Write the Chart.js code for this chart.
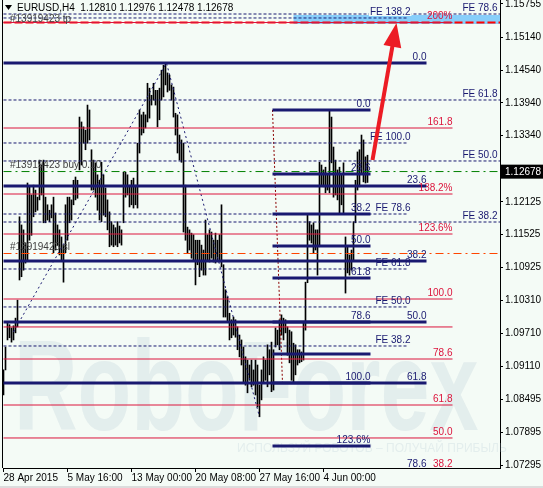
<!DOCTYPE html>
<html>
<head>
<meta charset="utf-8">
<script src="https://cdn.jsdelivr.net/npm/chart.js@4.4.1/dist/chart.umd.min.js"></script>
<style>
  html, body { margin: 0; padding: 0; background: #f4fbf6; }
  canvas { display: block; }
</style>
</head>
<body>
<canvas id="chart" width="543" height="488"></canvas>
<script>
'use strict';

var title = 'EURUSD,H4  1.12810 1.12976 1.12478 1.12678';
var lastPrice = 1.12678;

// H4 bars, one per index (high / low)
var highs = [
  1.0904, 1.0946, 1.0992, 1.0987, 1.0981, 1.0985, 1.0999, 1.1032, 1.1185, 1.1170,
  1.1161, 1.1137, 1.1247, 1.1240, 1.1225, 1.1243, 1.1234, 1.1221, 1.1289, 1.1280,
  1.1289, 1.1221, 1.1207, 1.1197, 1.1207, 1.1221, 1.1192, 1.1170, 1.1161, 1.1148,
  1.1133, 1.1207, 1.1221, 1.1221, 1.1216, 1.1252, 1.1258, 1.1252, 1.1368, 1.1359,
  1.1350, 1.1344, 1.1390, 1.1381, 1.1308, 1.1289, 1.1284, 1.1262, 1.1252, 1.1285,
  1.1262, 1.1238, 1.1216, 1.1194, 1.1176, 1.1170, 1.1165, 1.1176, 1.1168, 1.1161,
  1.1267, 1.1267, 1.1262, 1.1243, 1.1252, 1.1256, 1.1243, 1.1320, 1.1381, 1.1372,
  1.1377, 1.1372, 1.1430, 1.1421, 1.1408, 1.1430, 1.1417, 1.1417, 1.1421, 1.1454,
  1.1463, 1.1467, 1.1449, 1.1445, 1.1427, 1.1423, 1.1375, 1.1372, 1.1335, 1.1326,
  1.1320, 1.1243, 1.1166, 1.1161, 1.1155, 1.1152, 1.1142, 1.1142, 1.1142, 1.1133,
  1.1124, 1.1179, 1.1152, 1.1161, 1.1157, 1.1142, 1.1155, 1.1142, 1.1152, 1.1207,
  1.1097, 1.1051, 1.1038, 1.1008, 1.0996, 1.1001, 1.0996, 1.0983, 1.0968, 1.0959,
  1.0946, 1.0928, 1.0922, 1.0913, 1.0922, 1.0904, 1.0922, 1.0913, 1.0876, 1.0904,
  1.0928, 1.0922, 1.0950, 1.0941, 1.0955, 1.0941, 1.0981, 1.0977, 1.0996, 1.1005,
  1.0999, 1.0996, 1.0983, 1.0977, 1.0974, 1.0953, 1.0950, 1.0941, 1.0941, 1.0937,
  1.0992, 1.1065, 1.1188, 1.1176, 1.1170, 1.1174, 1.1161, 1.1161, 1.1285, 1.1280,
  1.1271, 1.1276, 1.1262, 1.1381, 1.1368, 1.1313, 1.1289, 1.1271, 1.1276, 1.1262,
  1.1284, 1.1148, 1.1130, 1.1115, 1.1124, 1.1176, 1.1252, 1.1304, 1.1308, 1.1335,
  1.1326, 1.1295, 1.1298
];
var lows = [
  1.0858, 1.0904, 1.0959, 1.0963, 1.0955, 1.0959, 1.0972, 1.0983, 1.1069, 1.1075,
  1.1087, 1.1100, 1.1106, 1.1142, 1.1151, 1.1185, 1.1194, 1.1197, 1.1216, 1.1225,
  1.1174, 1.1174, 1.1179, 1.1176, 1.1183, 1.1119, 1.1124, 1.1133, 1.1115, 1.1106,
  1.1065, 1.1119, 1.1142, 1.1174, 1.1179, 1.1207, 1.1216, 1.1219, 1.1271, 1.1280,
  1.1320, 1.1308, 1.1320, 1.1326, 1.1234, 1.1234, 1.1221, 1.1197, 1.1179, 1.1176,
  1.1188, 1.1185, 1.1161, 1.1130, 1.1133, 1.1130, 1.1133, 1.1130, 1.1137, 1.1133,
  1.1174, 1.1221, 1.1225, 1.1203, 1.1207, 1.1201, 1.1207, 1.1201, 1.1302, 1.1335,
  1.1339, 1.1348, 1.1359, 1.1366, 1.1390, 1.1399, 1.1390, 1.1350, 1.1363, 1.1399,
  1.1405, 1.1427, 1.1414, 1.1417, 1.1399, 1.1368, 1.1335, 1.1302, 1.1289, 1.1285,
  1.1157, 1.1142, 1.1119, 1.1124, 1.1109, 1.1106, 1.1060, 1.1097, 1.1075, 1.1087,
  1.1078, 1.1078, 1.1106, 1.1102, 1.1109, 1.1102, 1.1100, 1.1106, 1.1102, 1.1093,
  1.1001, 1.1001, 1.0992, 1.0959, 1.0963, 1.0968, 1.0964, 1.0941, 1.0928, 1.0913,
  1.0880, 1.0876, 1.0862, 1.0885, 1.0873, 1.0876, 1.0858, 1.0836, 1.0818, 1.0849,
  1.0880, 1.0885, 1.0873, 1.0895, 1.0864, 1.0867, 1.0946, 1.0950, 1.0941, 1.0968,
  1.0959, 1.0972, 1.0931, 1.0917, 1.0885, 1.0880, 1.0895, 1.0913, 1.0917, 1.0919,
  1.0922, 1.0977, 1.1064, 1.1142, 1.1137, 1.1119, 1.1124, 1.1078, 1.1130, 1.1243,
  1.1240, 1.1229, 1.1234, 1.1229, 1.1284, 1.1221, 1.1225, 1.1216, 1.1192, 1.1207,
  1.1192, 1.1045, 1.1082, 1.1078, 1.1087, 1.1106, 1.1174, 1.1234, 1.1240, 1.1265,
  1.1249, 1.1247, 1.1248
];

var timeTicks = [0, 32, 64, 96, 128, 160];
var timeLabels = ['28 Apr 2015', '5 May 16:00', '13 May 00:00', '20 May 08:00', '27 May 16:00', '4 Jun 00:00'];
var priceTicks = [1.15755, 1.15140, 1.14540, 1.13940, 1.13340, 1.12125, 1.11525,
                  1.10925, 1.10310, 1.09710, 1.09110, 1.08495, 1.07895, 1.07295];
var priceMin = 1.07240, priceMax = 1.15828;
var barMin = -0.25, barMax = 248.25;

// fibo retracement, big (solid navy)
var bigFibPrices = [1.14672, 1.12415, 1.11039, 1.09919, 1.08800, 1.07204];
var bigFibLabels = ['0.0', '23.6', '38.2', '50.0', '61.8', '78.6'];
var bigFibSpan = [0, 211.5];

// fibo retracement, small (solid navy)
var smallFibPrices = [1.13810, 1.12635, 1.11901, 1.11314, 1.10727, 1.09919, 1.09332, 1.08800, 1.07644];
var smallFibLabels = ['0.0', '23.6', '38.2', '50.0', '61.8', '78.6', '', '100.0', '123.6%'];
var smallFibSpan = [134.5, 183.5];

// fibo expansion (thin crimson)
var redFibPrices = [1.15415, 1.13479, 1.12268, 1.11534, 1.10341, 1.09828, 1.09240, 1.08396, 1.07791, 1.07204];
var redFibLabels = ['200%', '161.8', '138.2%', '123.6%', '100.0', '', '78.6', '61.8', '50.0', '38.2'];
var redFibSpan = [0, 224.5];

// FE levels (dashed navy)
var feShortPrices = [1.15498, 1.13204, 1.11901, 1.10892, 1.10195, 1.09479];
var feShortLabels = ['FE 138.2', 'FE 100.0', 'FE 78.6', 'FE 61.8', 'FE 50.0', 'FE 38.2'];
var feShortSpan = [0, 202.5];
var feLongPrices = [1.15571, 1.13993, 1.12874, 1.11754];
var feLongLabels = ['FE 78.6', 'FE 61.8', 'FE 50.0', 'FE 38.2'];
var feLongSpan = [0, 248.25];

// order #13919423
var orderBuy = 1.12680, orderSl = 1.11176, orderTp = 1.15415;

// dotted trend lines of the fibo tools
var bigTrendX = [5, 81.5, 128], bigTrendY = [1.09736, 1.14672, 1.08176];
var smallTrendX = [134.5, 139.5], smallTrendY = [1.13810, 1.08800];

// red arrow and the selected (light blue) box
var arrowX = [184.5, 196.5], arrowY = [1.12892, 1.15406];
var boxX = [145, 248.25], boxY = [1.15388, 1.15553];

var NAVY = '#191970', CRIMSON = '#dc143c', BG = '#f4fbf6';
var FONT = '10px "Liberation Sans", Arial, sans-serif';

function levelLines(prices, span, color, width, dash) {
    return prices.map(function(p) {
        return {
            type: 'line',
            data: [{x: span[0], y: p}, {x: span[1], y: p}],
            borderColor: color,
            borderWidth: width,
            borderDash: dash || [],
            pointRadius: 0,
            fill: false,
            order: 1
        };
    });
}

function pathLine(xs, ys, color, dash) {
    return {
        type: 'line',
        data: xs.map(function(x, i) { return {x: x, y: ys[i]}; }),
        borderColor: color,
        borderWidth: 1,
        borderDash: dash,
        pointRadius: 0,
        fill: false,
        tension: 0,
        order: 2
    };
}

var datasets = [{
    type: 'bar',
    data: highs.map(function(h, i) { return {x: i, y: [lows[i], h]}; }),
    backgroundColor: '#000',
    borderWidth: 0,
    barThickness: 1,
    order: 10
}];

datasets = datasets
    .concat(levelLines(redFibPrices, redFibSpan, CRIMSON, 1))
    .concat(levelLines(feShortPrices, feShortSpan, NAVY, 1, [3, 2]))
    .concat(levelLines(feLongPrices, feLongSpan, NAVY, 1, [3, 2]))
    .concat(levelLines(bigFibPrices, bigFibSpan, NAVY, 3))
    .concat(levelLines(smallFibPrices, smallFibSpan, NAVY, 3))
    .concat(levelLines([orderBuy], feLongSpan, '#008000', 1, [8, 4, 2, 4]))
    .concat(levelLines([orderSl], feLongSpan, '#ff4500', 1, [8, 4, 2, 4]))
    .concat(levelLines([orderTp], feLongSpan, '#ff0000', 2, [8, 3]))
    .concat([pathLine(bigTrendX, bigTrendY, NAVY, [2, 3]),
             pathLine(smallTrendX, smallTrendY, '#8b0000', [2, 2])]);

function txt(ctx, s, x, y, color, align) {
    ctx.fillStyle = color;
    ctx.textAlign = align || 'left';
    ctx.fillText(s, x, y);
}

var overlay = {
    id: 'mt4Overlay',
    beforeDraw: function(chart) {
        var ctx = chart.ctx;
        ctx.save();
        ctx.fillStyle = BG;
        ctx.fillRect(0, 0, chart.width, chart.height);
        ctx.fillStyle = '#dcdcdc';
        ctx.fillRect(0, chart.height - 2, chart.width, 2);
        ctx.restore();
    },
    beforeDatasetsDraw: function(chart) {
        var ctx = chart.ctx, xs = chart.scales.x, ys = chart.scales.y;
        ctx.save();
        // watermark
        ctx.fillStyle = 'rgba(170, 192, 205, 0.22)';
        ctx.font = 'bold 88px "Liberation Sans", Arial, sans-serif';
        ctx.textBaseline = 'alphabetic';
        ctx.translate(14, 430);
        ctx.scale(1, 1.45);
        ctx.fillText('RoboForex', 0, 0);
        ctx.setTransform(1, 0, 0, 1, 0, 0);
        ctx.font = '12px "Liberation Sans", Arial, sans-serif';
        ctx.fillText('ИСПОЛЬЗУЙ РОБОТОВ – ПОЛУЧАЙ ПРИБЫЛЬ', 237, 452);
        // selected object box
        var bx0 = xs.getPixelForValue(boxX[0]), bx1 = xs.getPixelForValue(boxX[1]);
        var by0 = ys.getPixelForValue(boxY[1]), by1 = ys.getPixelForValue(boxY[0]);
        ctx.fillStyle = '#87cefa';
        ctx.fillRect(bx0, by0, bx1 - bx0, by1 - by0);
        ctx.restore();
    },
    afterDatasetsDraw: function(chart) {
        var ctx = chart.ctx, xs = chart.scales.x, ys = chart.scales.y;
        var area = chart.chartArea;
        ctx.save();
        ctx.font = FONT;
        ctx.textBaseline = 'bottom';

        function levelLabels(prices, labels, xEnd, color) {
            var x = xs.getPixelForValue(xEnd);
            prices.forEach(function(p, i) {
                if (!labels[i]) return;
                var y = ys.getPixelForValue(p) - 1;
                if (y < 20) {
                    var w = ctx.measureText(labels[i]).width;
                    ctx.fillStyle = BG;
                    ctx.fillRect(x - w - 1, y - 10, w + 2, 9);
                }
                txt(ctx, labels[i], x, y, color, 'right');
            });
        }
        levelLabels(redFibPrices, redFibLabels, 224.5, CRIMSON);
        levelLabels(feShortPrices, feShortLabels, 203.5, NAVY);
        levelLabels(feLongPrices, feLongLabels, 247, NAVY);
        levelLabels(bigFibPrices, bigFibLabels, 211.5, NAVY);
        levelLabels(smallFibPrices, smallFibLabels, 183.5, NAVY);

        // order labels
        txt(ctx, '#13919423 buy 0.10', 10, ys.getPixelForValue(orderBuy) - 1, '#404040');
        txt(ctx, '#13919423 sl', 10, ys.getPixelForValue(orderSl) - 1, '#404040');
        txt(ctx, '#13919423 tp', 10, ys.getPixelForValue(orderTp) + 2, '#404040');

        // red arrow
        var ax0 = xs.getPixelForValue(arrowX[0]), ay0 = ys.getPixelForValue(arrowY[0]);
        var ax1 = xs.getPixelForValue(arrowX[1]), ay1 = ys.getPixelForValue(arrowY[1]);
        var dx = ax1 - ax0, dy = ay1 - ay0, len = Math.sqrt(dx * dx + dy * dy);
        var ux = dx / len, uy = dy / len, head = 24, half = 9;
        var bx = ax1 - ux * head, by = ay1 - uy * head;
        ctx.strokeStyle = '#ec1c24';
        ctx.fillStyle = '#ec1c24';
        ctx.lineWidth = 4;
        ctx.beginPath();
        ctx.moveTo(ax0, ay0);
        ctx.lineTo(bx + ux * 2, by + uy * 2);
        ctx.stroke();
        ctx.beginPath();
        ctx.moveTo(ax1, ay1);
        ctx.lineTo(bx - uy * half, by + ux * half);
        ctx.lineTo(bx + uy * half, by - ux * half);
        ctx.closePath();
        ctx.fill();

        // left frame
        ctx.fillStyle = '#000';
        ctx.fillRect(area.left - 1, area.top, 1, area.bottom - area.top);

        // title
        ctx.beginPath();
        ctx.moveTo(5, 5); ctx.lineTo(12, 5); ctx.lineTo(8.5, 10); ctx.closePath();
        ctx.fill();
        ctx.textBaseline = 'middle';
        txt(ctx, title, 17, 8, '#000');

        // last price marker
        var py = ys.getPixelForValue(lastPrice);
        ctx.fillStyle = '#000';
        ctx.fillRect(area.right + 1, py - 7, chart.width - area.right - 1, 14);
        txt(ctx, lastPrice.toFixed(5), area.right + 5, py + 1, '#fff');
        ctx.restore();
    }
};

new Chart(document.getElementById('chart'), {
    type: 'bar',
    data: {datasets: datasets},
    options: {
        responsive: false,
        animation: false,
        devicePixelRatio: 1,
        events: [],
        layout: {padding: {left: 3, right: 0, top: 0, bottom: 0}},
        plugins: {legend: {display: false}, tooltip: {enabled: false}},
        scales: {
            x: {
                type: 'linear',
                min: barMin,
                max: barMax,
                offset: false,
                grid: {offset: false, drawOnChartArea: false, drawTicks: true, tickLength: 4, color: '#000'},
                border: {display: true, color: '#000'},
                ticks: {
                    autoSkip: false,
                    maxRotation: 0,
                    align: 'start',
                    padding: 0,
                    color: '#000',
                    font: {family: '"Liberation Sans", Arial, sans-serif', size: 10},
                    callback: function(v) {
                        var k = timeTicks.indexOf(v);
                        return k >= 0 ? timeLabels[k] : '';
                    }
                },
                afterBuildTicks: function(s) {
                    s.ticks = timeTicks.map(function(v) { return {value: v}; });
                },
                afterFit: function(s) {
                    s.height = 20;
                    s.paddingLeft = 0;
                    s.paddingRight = 0;
                }
            },
            y: {
                type: 'linear',
                position: 'right',
                min: priceMin,
                max: priceMax,
                grid: {drawOnChartArea: false, drawTicks: true, tickLength: 3, color: '#000'},
                border: {display: true, color: '#000'},
                ticks: {
                    autoSkip: false,
                    padding: 2,
                    color: '#000',
                    font: {family: '"Liberation Sans", Arial, sans-serif', size: 10},
                    callback: function(v) { return Number(v).toFixed(5); }
                },
                afterBuildTicks: function(s) {
                    s.ticks = priceTicks.map(function(v) { return {value: v}; });
                },
                afterFit: function(s) {
                    s.width = 43;
                    s.paddingTop = 0;
                    s.paddingBottom = 0;
                }
            }
        }
    },
    plugins: [overlay]
});
</script>
</body>
</html>
